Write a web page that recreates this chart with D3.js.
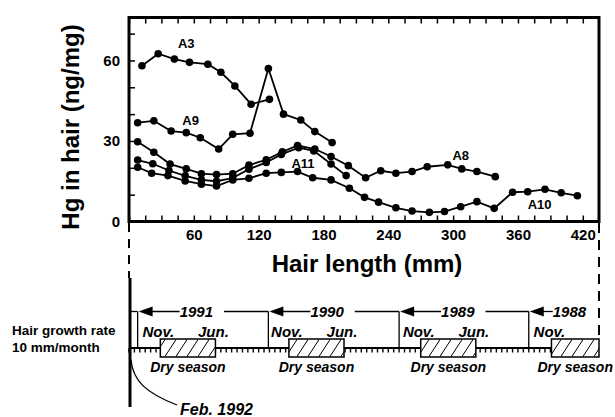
<!DOCTYPE html>
<html>
<head>
<meta charset="utf-8">
<script src="https://cdn.jsdelivr.net/npm/d3@7"></script>
<style>
  body { margin: 0; background: #fff; }
  svg { display: block; font-family: "Liberation Sans", Arial, sans-serif; }
</style>
</head>
<body>
<div id="chart"></div>
<script>
// hair length (mm) and Hg (ng/mg) for each subject
var a3X = [12, 27, 42, 56, 73, 85, 98, 113, 130];
var a3Y = [58, 62.5, 60.5, 59.3, 58.6, 55.6, 50.5, 43.7, 45.5];

var a9X = [8, 23, 39, 53, 66, 83, 96, 112, 129, 143, 159, 172, 188];
var a9Y = [36.8, 37.5, 33.7, 33.1, 31.2, 27, 32.5, 32.9, 57, 40, 37.8, 33.5, 29.4];

var a8X = [8, 23, 38, 53, 67, 81, 96, 111, 127, 142, 156, 172, 187, 203, 219, 233, 247, 262, 276, 295, 308, 322, 339];
var a8Y = [29.7, 25.8, 21.4, 19.6, 17.8, 17.5, 17.8, 21, 23, 26, 28.3, 27, 24.2, 20.8, 16.3, 18.9, 18, 18.6, 20.4, 21.1, 19.6, 18.6, 16.7];

var a11X = [8, 22, 37, 52, 67, 81, 96, 111, 127, 141, 157, 171, 187, 201];
var a11Y = [22.9, 21.5, 19, 17, 15.5, 15, 16.2, 19.5, 22, 25, 27.5, 26.3, 21.4, 17.1];

var a10X = [8, 21, 36, 52, 67, 81, 96, 111, 127, 141, 156, 170, 187, 204, 218, 231, 247, 262, 278, 292, 307, 322, 338, 355, 369, 385, 400, 415];
var a10Y = [20.2, 18, 17.1, 15.1, 13.9, 13.2, 15.5, 16.1, 18, 18.3, 18.6, 16.3, 15.5, 12.4, 9, 7.2, 5.1, 3.9, 3.4, 3.7, 5.5, 7.4, 4.9, 10.9, 11.1, 12, 10.7, 9.6];

var seriesNames = ["A3", "A9", "A8", "A11", "A10"];
// label anchor (mm, ng/mg) for each series name
var labelX = [53, 57, 307, 161, 380];
var labelY = [64.5, 36, 23, 20, 4.5];

// axis ticks
var xTicks = d3.range(0, 435, 15);
var xLabels = [60, 120, 180, 240, 300, 360, 420];
var yTicks = [0, 10, 20, 30, 40, 50, 60, 70];
var yLabels = [0, 30, 60];

// growth timeline (mm)
var yearNames = ["1991", "1990", "1989", "1988"];
var yearStart = [8, 129, 250, 370];
var dryStart = [29, 148, 270, 391];
var dryEnd = [80, 199, 321, 435];
var junShown = [true, true, true, false];

var W = 615, H = 417;
var svg = d3.select("#chart").append("svg").attr("width", W).attr("height", H);

var x = d3.scaleLinear().domain([0, 435]).range([129, 599]);
var y = d3.scaleLinear().domain([0, 76]).range([221.5, 17.5]);

// axes with inward ticks
var gx = svg.append("g").attr("transform", "translate(0," + y(0) + ")")
  .call(d3.axisBottom(x).tickValues(xTicks).tickSize(-6).tickPadding(8)
    .tickFormat(function(d) { return xLabels.indexOf(d) >= 0 ? d : ""; }));
svg.append("g").attr("transform", "translate(0," + y(76) + ")")
  .call(d3.axisTop(x).tickValues(xTicks).tickSize(-6).tickFormat(""));
var gy = svg.append("g").attr("transform", "translate(" + x(0) + ",0)")
  .call(d3.axisLeft(y).tickValues(yTicks).tickSize(-6).tickPadding(9)
    .tickFormat(function(d) { return yLabels.indexOf(d) >= 0 ? d : ""; }));
svg.selectAll(".domain").remove();
svg.selectAll(".tick line").attr("stroke", "#000").attr("stroke-width", 1.5);
svg.selectAll(".tick text").attr("fill", "#000")
  .style("font-family", "'Liberation Sans', Arial, sans-serif")
  .style("font-weight", "bold").style("font-size", "15px");

// frame
svg.append("rect")
  .attr("x", x(0)).attr("y", y(76))
  .attr("width", x(435) - x(0)).attr("height", y(0) - y(76))
  .attr("fill", "none").attr("stroke", "#000").attr("stroke-width", 3);

// series
var line = d3.line().x(function(d) { return x(d[0]); }).y(function(d) { return y(d[1]); });
var allX = [a3X, a9X, a8X, a11X, a10X];
var allY = [a3Y, a9Y, a8Y, a11Y, a10Y];
allX.forEach(function(xs, i) {
  var pts = xs.map(function(v, j) { return [v, allY[i][j]]; });
  svg.append("path").datum(pts).attr("d", line)
    .attr("fill", "none").attr("stroke", "#000").attr("stroke-width", 1.8);
  svg.append("g").selectAll("circle").data(pts).enter().append("circle")
    .attr("cx", function(d) { return x(d[0]); })
    .attr("cy", function(d) { return y(d[1]); })
    .attr("r", 3.8).attr("fill", "#000");
});

svg.append("g").selectAll("text").data(seriesNames).enter().append("text")
  .attr("x", function(d, i) { return x(labelX[i]); })
  .attr("y", function(d, i) { return y(labelY[i]); })
  .attr("text-anchor", "middle")
  .attr("font-weight", "bold").attr("font-size", 13)
  .text(function(d) { return d; });

// axis titles
svg.append("text").attr("x", 367).attr("y", 272).attr("text-anchor", "middle")
  .attr("font-weight", "bold").attr("font-size", 24).text("Hair length (mm)");
svg.append("text").attr("transform", "translate(79,127) rotate(-90)").attr("text-anchor", "middle")
  .attr("font-weight", "bold").attr("font-size", 24).text("Hg in hair (ng/mg)");

// ---- growth timeline ----
var tlY = 348, brY = 311.5;

svg.append("line").attr("x1", 129).attr("x2", 129).attr("y1", 223).attr("y2", 278)
  .attr("stroke", "#000").attr("stroke-width", 2).attr("stroke-dasharray", "9,7");
svg.append("line").attr("x1", 599).attr("x2", 599).attr("y1", 223).attr("y2", 339)
  .attr("stroke", "#000").attr("stroke-width", 2).attr("stroke-dasharray", "10,7");

svg.append("line").attr("x1", 130).attr("x2", x(435)).attr("y1", tlY).attr("y2", tlY)
  .attr("stroke", "#000").attr("stroke-width", 2);
svg.append("g").selectAll("line").data(d3.range(0, 435, 5)).enter().append("line")
  .attr("x1", function(d) { return x(d); }).attr("x2", function(d) { return x(d); })
  .attr("y1", tlY).attr("y2", tlY + 4.5)
  .attr("stroke", "#000").attr("stroke-width", 1.4);

// hatched dry seasons
var defs = svg.append("defs");
var pat = defs.append("pattern").attr("id", "hatch").attr("patternUnits", "userSpaceOnUse")
  .attr("x", 0).attr("y", 339).attr("width", 11).attr("height", 18);
pat.append("rect").attr("width", 11).attr("height", 18).attr("fill", "#fff");
pat.append("path").attr("d", "M-1,19 L12,-1").attr("stroke", "#000").attr("stroke-width", 1);

svg.append("g").selectAll("rect").data(dryStart).enter().append("rect")
  .attr("x", function(d) { return x(d); }).attr("y", 339)
  .attr("width", function(d, i) { return x(dryEnd[i]) - x(d); }).attr("height", 18)
  .attr("fill", "url(#hatch)").attr("stroke", "#000").attr("stroke-width", 1.5);

svg.append("g").selectAll("text").data(dryStart).enter().append("text")
  .attr("x", function(d, i) { return (x(d) + x(dryEnd[i])) / 2; }).attr("y", 372)
  .attr("text-anchor", "middle").attr("font-weight", "bold").attr("font-style", "italic")
  .attr("font-size", 14).text("Dry season");

svg.append("g").selectAll("text").data(dryStart).enter().append("text")
  .attr("x", function(d) { return x(d) - 2; }).attr("y", 337)
  .attr("text-anchor", "middle").attr("font-weight", "bold").attr("font-style", "italic")
  .attr("font-size", 15).text("Nov.");
svg.append("g").selectAll("text").data(dryEnd.filter(function(d, i) { return junShown[i]; }))
  .enter().append("text")
  .attr("x", function(d) { return x(d) - 2; }).attr("y", 337)
  .attr("text-anchor", "middle").attr("font-weight", "bold").attr("font-style", "italic")
  .attr("font-size", 15).text("Jun.");

// year brackets
svg.append("line").attr("x1", 130).attr("x2", x(yearStart[0])).attr("y1", brY).attr("y2", brY)
  .attr("stroke", "#000").attr("stroke-width", 1.3);
yearStart.forEach(function(s, i) {
  var xs = x(s);
  var last = i === yearStart.length - 1;
  svg.append("line").attr("x1", xs).attr("x2", xs).attr("y1", brY).attr("y2", tlY)
    .attr("stroke", "#000").attr("stroke-width", 1.3);
  var tx = xs + (last ? 24 : 42);
  var t = svg.append("text").attr("x", tx).attr("y", 317)
    .attr("font-weight", "bold").attr("font-style", "italic").attr("font-size", 15)
    .text(yearNames[i]);
  var tw = t.node().getComputedTextLength();
  svg.append("line").attr("x1", xs + 10).attr("x2", tx).attr("y1", brY).attr("y2", brY)
    .attr("stroke", "#000").attr("stroke-width", 1.3);
  if (!last) {
    svg.append("line").attr("x1", tx + tw + 11).attr("x2", x(yearStart[i + 1])).attr("y1", brY).attr("y2", brY)
      .attr("stroke", "#000").attr("stroke-width", 1.3);
  }
  svg.append("path")
    .attr("d", "M" + (xs + 1) + "," + brY + "L" + (xs + 15) + "," + (brY - 5) + "L" + (xs + 15) + "," + (brY + 5) + "Z")
    .attr("fill", "#000");
});

svg.append("line").attr("x1", 130).attr("x2", 130).attr("y1", 278).attr("y2", 407)
  .attr("stroke", "#000").attr("stroke-width", 3);

svg.append("path").attr("d", "M131,360 C133,381 146,393 177,405")
  .attr("fill", "none").attr("stroke", "#000").attr("stroke-width", 1.3);
svg.append("text").attr("x", 180).attr("y", 415)
  .attr("font-weight", "bold").attr("font-style", "italic").attr("font-size", 16)
  .text("Feb. 1992");

svg.append("text").attr("x", 12).attr("y", 335)
  .attr("font-weight", "bold").attr("font-size", 13.5).text("Hair growth rate");
svg.append("text").attr("x", 12).attr("y", 352)
  .attr("font-weight", "bold").attr("font-size", 13.5).text("10 mm/month");
</script>
</body>
</html>
